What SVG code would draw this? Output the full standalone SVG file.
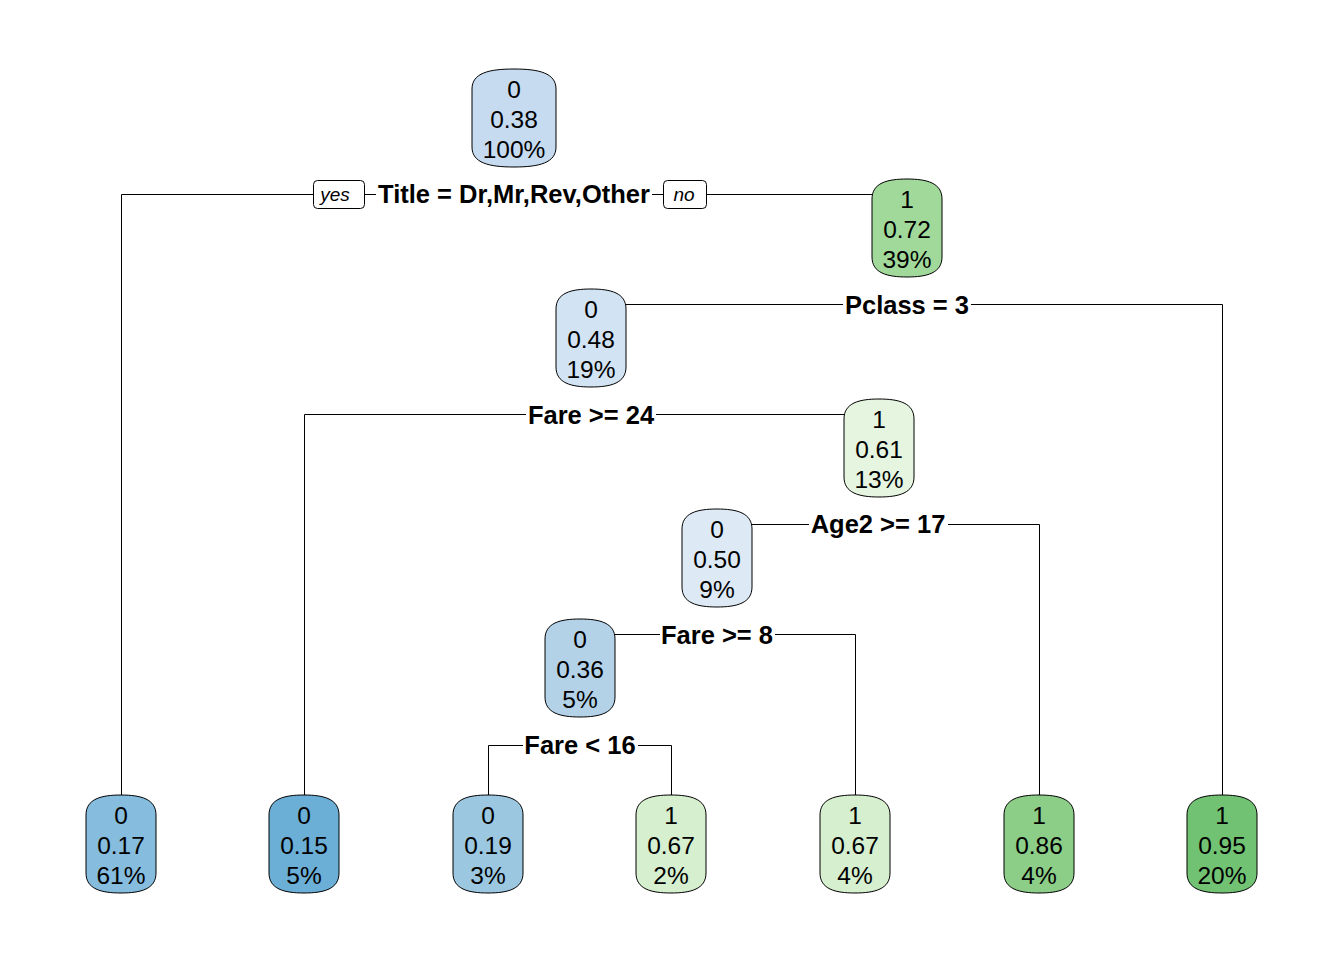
<svg xmlns="http://www.w3.org/2000/svg" width="1344" height="960" viewBox="0 0 1344 960">
<style>
.box{stroke:#000;stroke-width:1}
.t{font-family:"Liberation Sans",Arial,sans-serif;font-size:24.5px;text-anchor:middle;fill:#000}
.lb{font-family:"Liberation Sans",Arial,sans-serif;font-size:25.5px;font-weight:bold;text-anchor:middle;fill:#000}
.yn{font-family:"Liberation Sans",Arial,sans-serif;font-size:19px;font-style:italic;text-anchor:middle;fill:#000}
.ln{fill:none;stroke:#000;stroke-width:1}
.bg{fill:#fff}
.ynb{fill:#fff;stroke:#000;stroke-width:1}
</style>
<defs>
<path id="n70" d="M-35,-29 C-35,-45 -20,-49 0,-49 C20,-49 35,-45 35,-29 L35,29 C35,45 20,49 0,49 C-20,49 -35,45 -35,29 Z"/>
<path id="n84" d="M-42,-29 C-42,-45 -25,-49 0,-49 C25,-49 42,-45 42,-29 L42,29 C42,45 25,49 0,49 C-25,49 -42,45 -42,29 Z"/>
</defs>
<rect width="1344" height="960" fill="#fff"/>
<g id="connectors">
<path class="ln" d="M121.5,795 V194.5 H872"/>
<path class="ln" d="M626,304.5 H1222.5 V795"/>
<path class="ln" d="M304.5,795 V414.5 H844"/>
<path class="ln" d="M752,524.5 H1039.5 V795"/>
<path class="ln" d="M615,634.5 H855.5 V795"/>
<path class="ln" d="M488.5,795 V745.5 H671.5 V795"/>
</g>
<g id="labels">
<rect class="bg" x="376" y="180" width="276" height="28"/>
<text class="lb" x="514" y="203">Title = Dr,Mr,Rev,Other</text>
<rect class="ynb" x="313.5" y="180.5" width="51" height="28" rx="4"/>
<text class="yn" x="335" y="201">yes</text>
<rect class="ynb" x="663.5" y="180.5" width="43" height="28" rx="4"/>
<text class="yn" x="684" y="201">no</text>
<rect class="bg" x="843" y="290" width="128" height="28"/>
<text class="lb" x="907" y="313.5">Pclass = 3</text>
<rect class="bg" x="526" y="400" width="130" height="28"/>
<text class="lb" x="591" y="423.5">Fare &gt;= 24</text>
<rect class="bg" x="809" y="510" width="139" height="28"/>
<text class="lb" x="878" y="533">Age2 &gt;= 17</text>
<rect class="bg" x="660" y="620" width="115" height="28"/>
<text class="lb" x="717" y="643.5">Fare &gt;= 8</text>
<rect class="bg" x="523" y="731" width="115" height="28"/>
<text class="lb" x="580" y="754">Fare &lt; 16</text>
</g>
<g id="node1" transform="translate(514,118)">
<use href="#n84" class="box" fill="#C6DBEF"/>
<text class="t" y="-20">0</text><text class="t" y="10">0.38</text><text class="t" y="40">100%</text>
</g>
<g id="node2" transform="translate(907,228)">
<use href="#n70" class="box" fill="#A1D99B"/>
<text class="t" y="-20">1</text><text class="t" y="10">0.72</text><text class="t" y="40">39%</text>
</g>
<g id="node3" transform="translate(591,338)">
<use href="#n70" class="box" fill="#D2E3F3"/>
<text class="t" y="-20">0</text><text class="t" y="10">0.48</text><text class="t" y="40">19%</text>
</g>
<g id="node4" transform="translate(879,448)">
<use href="#n70" class="box" fill="#E5F5E0"/>
<text class="t" y="-20">1</text><text class="t" y="10">0.61</text><text class="t" y="40">13%</text>
</g>
<g id="node5" transform="translate(717,558)">
<use href="#n70" class="box" fill="#DDEAF6"/>
<text class="t" y="-20">0</text><text class="t" y="10">0.50</text><text class="t" y="40">9%</text>
</g>
<g id="node6" transform="translate(580,668)">
<use href="#n70" class="box" fill="#B3D2E8"/>
<text class="t" y="-20">0</text><text class="t" y="10">0.36</text><text class="t" y="40">5%</text>
</g>
<g id="leaf1" transform="translate(121,844)">
<use href="#n70" class="box" fill="#86BCDD"/>
<text class="t" y="-20">0</text><text class="t" y="10">0.17</text><text class="t" y="40">61%</text>
</g>
<g id="leaf2" transform="translate(304,844)">
<use href="#n70" class="box" fill="#6BAED6"/>
<text class="t" y="-20">0</text><text class="t" y="10">0.15</text><text class="t" y="40">5%</text>
</g>
<g id="leaf3" transform="translate(488,844)">
<use href="#n70" class="box" fill="#9BC8E0"/>
<text class="t" y="-20">0</text><text class="t" y="10">0.19</text><text class="t" y="40">3%</text>
</g>
<g id="leaf4" transform="translate(671,844)">
<use href="#n70" class="box" fill="#D5EFCF"/>
<text class="t" y="-20">1</text><text class="t" y="10">0.67</text><text class="t" y="40">2%</text>
</g>
<g id="leaf5" transform="translate(855,844)">
<use href="#n70" class="box" fill="#D5EFCF"/>
<text class="t" y="-20">1</text><text class="t" y="10">0.67</text><text class="t" y="40">4%</text>
</g>
<g id="leaf6" transform="translate(1039,844)">
<use href="#n70" class="box" fill="#8CCE88"/>
<text class="t" y="-20">1</text><text class="t" y="10">0.86</text><text class="t" y="40">4%</text>
</g>
<g id="leaf7" transform="translate(1222,844)">
<use href="#n70" class="box" fill="#72C273"/>
<text class="t" y="-20">1</text><text class="t" y="10">0.95</text><text class="t" y="40">20%</text>
</g>
</svg>
